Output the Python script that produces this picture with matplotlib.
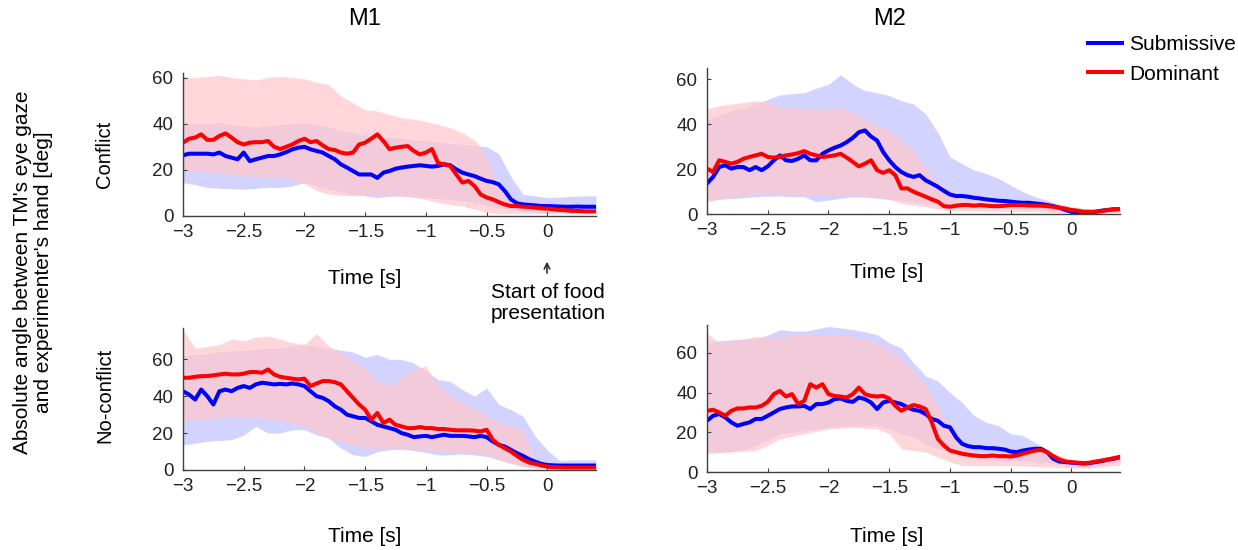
import numpy as np
import matplotlib
matplotlib.use("Agg")
import matplotlib.pyplot as plt
from matplotlib.lines import Line2D

plt.rcParams['font.family'] = ['Liberation Sans', 'DejaVu Sans']

# time axis (s) for the mean traces and for the shaded bands
t_mean = np.linspace(-3, 0.4, 69)
t_band = np.linspace(-3, 0.4, 35)

# ---- M1, Conflict ----
m1c_dom = [31.8, 33.5, 34, 35.4, 33, 33, 34.7, 35.8, 34, 32,
           31, 31.8, 32, 32, 32.5, 30, 29, 30, 31, 32.5,
           33.5, 32, 32.5, 30.6, 29, 28.6, 27.5, 27, 27.5, 31,
           31.8, 33.5, 35.4, 32.5, 29, 29.6, 30, 30.3, 28.2, 26.7,
           27.5, 29, 23, 22.4, 21.7, 18, 14.5, 15.2, 13, 9.4,
           8, 7.2, 6, 5, 4.3, 4.3, 4, 3.9, 3.6, 3.3,
           3.2, 2.9, 2.6, 2.5, 2.2, 2.2, 2, 2, 2]
m1c_sub = [26.3, 27, 27, 27, 27, 26.7, 27.5, 26, 25.3, 24.6,
           27.5, 23.8, 24.6, 25.3, 26, 26, 26.7, 27.7, 28.9, 29.6,
           30, 28.9, 28.2, 27.5, 26, 24.6, 22.4, 21, 19.5, 18,
           18, 18, 16.5, 18.8, 19.5, 20.5, 21, 21.4, 21.7, 22,
           21.7, 21.4, 21.7, 22.4, 22, 20.2, 18.8, 18, 17.3, 16.2,
           15.2, 14.7, 13.7, 10.8, 7.2, 5.5, 5, 4.8, 4.6, 4.3,
           4.3, 4.2, 4.1, 4, 4, 4.1, 4, 4, 4]
m1c_dom_hi = [60.5, 60, 60.5, 61, 60, 59.5, 59, 60, 60.5, 60,
              59.5, 58, 57, 52, 49, 46, 45.5, 44, 42.6, 42,
              41, 39.7, 38.3, 36, 33, 26, 11.6, 6, 5, 4.5,
              4.2, 4, 3.8, 3.6, 3.5]
m1c_dom_lo = [20, 19.5, 19, 18.5, 18, 17.5, 17, 17, 17, 16,
              14, 11, 9.5, 9, 8.7, 9, 9.5, 9, 8.7, 8,
              7.2, 5.8, 5, 4.3, 3, 1.4, 1, 1, 1, 1,
              1, 1, 1, 1, 1]
m1c_sub_hi = [40.5, 40, 40, 40.5, 39.5, 39, 38.5, 39, 39.5, 40,
              40.5, 39.5, 38.5, 37, 36, 35, 34.5, 34, 33.5, 33,
              32.5, 32, 31.5, 31, 30.5, 30, 27, 17, 9.4, 8.7,
              8, 8.2, 8.5, 8.7, 8.7]
m1c_sub_lo = [14.5, 13.5, 12.3, 12, 11.8, 11.6, 12, 12.5, 12.3, 13,
              14.5, 13, 11.6, 10.5, 9.4, 8.7, 8, 8.5, 8.7, 8.3,
              8, 7.5, 7.2, 6.5, 5.8, 4.5, 3.6, 2.8, 2.2, 1.8,
              1.4, 1.4, 1.5, 1.6, 1.7]

# ---- M2, Conflict ----
m2c_dom = [20.2, 18.7, 23.9, 23.2, 22.4, 23.2, 24.6, 25.4, 26.1, 26.8,
           25.4, 25.1, 25.4, 26.1, 26.5, 27.1, 28.0, 26.8, 26.1, 25.4,
           25.7, 26.1, 26.8, 25.1, 23.2, 21.2, 22.4, 23.9, 19.5, 18.3,
           19.5, 17.3, 11.4, 11.4, 9.9, 8.8, 7.7, 6.5, 5.5, 3.5,
           3.2, 3.7, 4.0, 4.0, 3.7, 4.0, 3.7, 3.5, 3.5, 3.7,
           4.0, 4.0, 4.0, 3.8, 3.7, 3.7, 3.5, 3.2, 2.8, 2.4,
           1.8, 1.5, 1.0, 1.0, 1.0, 1.3, 1.8, 2.1, 2.2]
m2c_sub = [13.6, 16.5, 20.9, 21.7, 20.2, 20.9, 20.9, 19.5, 20.9, 19.5,
           21.2, 23.9, 26.1, 23.9, 23.6, 24.6, 26.1, 23.9, 23.9, 26.8,
           28.3, 29.5, 30.5, 32.0, 33.9, 36.4, 37.2, 34.5, 32.7, 27.6,
           23.9, 20.9, 18.7, 17.3, 16.5, 17.3, 15.0, 13.6, 12.1, 10.3,
           8.7, 8.0, 8.0, 7.7, 7.2, 6.9, 6.5, 6.2, 5.9, 5.8,
           5.5, 5.2, 5.0, 5.0, 4.7, 4.4, 4.0, 3.5, 2.8, 1.8,
           1.0, 0.6, 0.6, 0.6, 1.0, 1.5, 1.8, 2.1, 2.2]
m2c_dom_hi = [46.8, 48.2, 49, 49.7, 50.4, 49.7, 47.5, 47.5, 46.8, 46.8,
              46.8, 47.5, 45.3, 42.3, 39.4, 37.2, 32.7, 28.3, 20.9, 15,
              7.7, 6.9, 6.8, 6.7, 6.6, 6.5, 6.2, 6, 5.5, 4.5,
              3.2, 2.5, 2.3, 2.8, 3.5]
m2c_dom_lo = [5.5, 6.5, 7.5, 8.2, 8.8, 9.1, 9, 8.8, 8.6, 8.5,
              8.4, 8.4, 8.4, 8.2, 7.7, 6.5, 4.7, 4, 3.2, 2.3,
              1.5, 1.4, 1.3, 1.2, 1.2, 1.1, 1.1, 1, 0.8, 0.5,
              0.3, 0.2, 0.2, 0.5, 0.8]
m2c_sub_hi = [42, 44, 46, 47, 49, 51, 53, 53.5, 54, 56,
              57.8, 62, 57.8, 54.9, 54, 52.7, 50.4, 49, 44.5, 36.4,
              25.4, 22.4, 19.5, 18, 15.8, 12.8, 9.9, 7.7, 6.2, 4,
              2.5, 2, 2, 2.3, 2.8]
m2c_sub_lo = [6.2, 6.5, 6.9, 7.2, 7.7, 8, 8, 7.7, 7.7, 5.5,
              6.2, 7, 7.7, 7.5, 7, 6.5, 6, 5.2, 4.7, 4,
              3.2, 3, 2.9, 2.8, 2.6, 2.5, 2.2, 2, 1.8, 1,
              0.3, 0.2, 0.4, 0.8, 1]

# ---- M1, No-conflict ----
m1n_dom = [50, 50, 50.5, 50.9, 50.9, 51.3, 51.8, 52.2, 51.8, 51.8,
           52.2, 53.1, 53.1, 52.7, 54.5, 51.8, 50.5, 50, 49.5, 49.1,
           49.5, 45.5, 46.9, 48.2, 48.2, 47.6, 46.4, 42.7, 39.1, 35.5,
           32.7, 27.3, 30.9, 25.5, 27.3, 24.5, 23.6, 22.7, 22.7, 23.3,
           22.7, 22.7, 22.2, 22.2, 21.8, 21.5, 21.5, 21.5, 21.3, 20.9,
           21.8, 16.4, 13.6, 11.8, 10, 7.6, 5.5, 4, 3.3, 2.5,
           1.8, 1.5, 1.4, 1.3, 1.3, 1.3, 1.3, 1.3, 1.3]
m1n_sub = [42.7, 40.9, 38.2, 43.6, 40, 35.5, 42.7, 43.6, 42.7, 44.5,
           45.5, 44.5, 46.4, 47.3, 46.9, 46.4, 46.7, 46.4, 46.9, 46.4,
           45.5, 42.7, 40, 39.1, 37.3, 34.5, 32.7, 30, 29.1, 28.2,
           28.2, 26.4, 24.5, 23.6, 22.7, 21.8, 20, 19.1, 17.8, 18.2,
           18.5, 17.8, 18.5, 19.1, 18.5, 18.5, 18.5, 18.2, 17.8, 18.5,
           17.8, 15.5, 13.6, 12.7, 10.9, 9.1, 7.6, 5.8, 4.5, 3.3,
           2.7, 2.5, 2.4, 2.4, 2.4, 2.4, 2.4, 2.4, 2.4]
m1n_dom_hi = [76, 66, 67, 68, 71, 70, 72, 72.7, 71, 69,
              68, 74, 67, 63.6, 59, 54.5, 48, 45.5, 50, 54.5,
              56.4, 45.5, 40, 36.4, 32.7, 29.1, 25.5, 23.6, 21.8, 4,
              3.5, 3.2, 3, 3, 3]
m1n_dom_lo = [27, 27.5, 28, 28.5, 29, 29, 29, 28, 27, 25.5,
              23.6, 20, 17.3, 15.5, 13.6, 11.8, 11.8, 11.8, 11.8, 11.3,
              10.9, 10.5, 10, 9.5, 9.1, 8.2, 5.5, 3.6, 1.8, 1.2,
              0.8, 0.8, 0.8, 0.8, 0.8]
m1n_sub_hi = [62, 62.5, 63, 64, 64.5, 65, 65.5, 66, 66, 67,
              68, 67, 66, 65, 64, 61, 62.7, 60, 60, 58,
              53.6, 49, 48, 43.6, 40, 44.5, 35.5, 32.7, 29.1, 18.2,
              10.9, 5, 5.5, 5.5, 5.5]
m1n_sub_lo = [13.6, 14.5, 15.5, 16, 16.4, 19, 23.6, 20, 20, 21.8,
              21.8, 19, 17.3, 11.8, 8.2, 7.3, 10, 10.9, 11.3, 10.5,
              9.5, 8.2, 8.2, 8.7, 8.2, 7.3, 5.5, 3.6, 2, 1.2,
              0.8, 0.8, 0.8, 0.8, 0.8]

# ---- M2, No-conflict ----
m2n_dom = [30.8, 31.3, 30, 28.3, 30.8, 32, 32, 32.5, 32.5, 33.3,
           35.3, 39.2, 40.8, 38, 39.2, 34.2, 35.8, 44.2, 42.5, 44.2,
           39.2, 38.3, 38, 37.5, 39.2, 42.5, 39.2, 38.3, 38, 38.3,
           37, 33.3, 30.8, 32.5, 33.7, 33, 31.7, 25, 16.7, 13.3,
           10.8, 10, 9.2, 8.7, 8.3, 8, 8, 8.3, 8, 8,
           7.8, 8.3, 9.2, 10, 10.8, 11.2, 10, 8, 6.3, 5.3,
           5, 4.7, 4.5, 4.7, 5.3, 5.8, 6.3, 7, 7.5]
m2n_sub = [25.8, 28.3, 29.2, 27.5, 25, 23.3, 24.2, 25, 26.7, 26.7,
           28.3, 30, 31.7, 32.5, 33, 33, 33.3, 31.7, 34.2, 34.2,
           35, 36.7, 37, 35.8, 35.3, 37.5, 36.7, 35, 31.7, 35,
           35.8, 35, 34.2, 32.5, 31.3, 30.8, 29.2, 26.7, 25.8, 23.3,
           22.5, 17.5, 14.2, 13, 12.5, 12.5, 12, 12, 11.7, 11.3,
           10.3, 10, 10.8, 11.3, 11.7, 11.7, 10, 6.7, 5.3, 5,
           4.7, 4.5, 4.2, 4.5, 5, 5.5, 6.2, 6.7, 7.5]
m2n_dom_hi = [70, 65, 65.8, 66.7, 68.3, 67.5, 68.3, 68.7, 69.2, 69.2,
              69.2, 68.8, 68.3, 66.7, 65, 61.7, 56.7, 50.8, 43.3, 33.3,
              21.7, 13.3, 10, 9.5, 9.2, 9.5, 10, 12.5, 10, 8.3,
              5.8, 5.8, 5.8, 7.5, 9.2]
m2n_dom_lo = [9.2, 9.6, 10, 10.4, 10.8, 13.5, 16.7, 18, 19.2, 20.5,
              21.7, 22, 22.5, 22, 21.7, 19.2, 11.7, 10.8, 10, 7.5,
              5, 3.3, 3.3, 3.3, 3.3, 3.3, 3, 2.8, 2.5, 2.2,
              2, 2, 2.2, 2.8, 3.3]
m2n_sub_hi = [65, 66, 66.5, 67, 67, 69, 71.7, 71, 70.8, 72,
              73.3, 72.5, 71.7, 70.5, 69.2, 65, 62.5, 55, 48.3, 45.8,
              40, 35, 28.3, 25, 23.3, 19.2, 18.3, 15, 10.8, 8.3,
              5.8, 5.8, 5.8, 7.5, 9.2]
m2n_sub_lo = [10, 10.2, 10.3, 11.5, 13.3, 16, 19.2, 20, 20.8, 21.7,
              22.5, 23, 23.3, 23.3, 23.3, 21.7, 19.2, 17.5, 14.2, 11.7,
              10, 8.3, 6.7, 6.2, 5.8, 5.8, 5.8, 5.2, 4.7, 3.6,
              2.5, 2.5, 3, 4, 5]

xticks = [-3, -2.5, -2, -1.5, -1, -0.5, 0]
xticklabels = ['\u22123', '\u22122.5', '\u22122', '\u22121.5', '\u22121', '\u22120.5', '0']
yticks = [0, 20, 40, 60]

SUB = '#0000ff'
DOM = '#ff0000'
W, H = 1238, 550

fig = plt.figure(figsize=(W / 100, H / 100), dpi=100)

panels = [
    # rect, ylim, data
    ([0.1478, 0.6073, 0.3336, 0.2600], 62,
     (m1c_sub, m1c_dom, m1c_sub_lo, m1c_sub_hi, m1c_dom_lo, m1c_dom_hi)),
    ([0.5711, 0.6109, 0.3336, 0.2655], 65,
     (m2c_sub, m2c_dom, m2c_sub_lo, m2c_sub_hi, m2c_dom_lo, m2c_dom_hi)),
    ([0.1478, 0.1455, 0.3336, 0.2582], 77,
     (m1n_sub, m1n_dom, m1n_sub_lo, m1n_sub_hi, m1n_dom_lo, m1n_dom_hi)),
    ([0.5711, 0.1418, 0.3336, 0.2673], 74,
     (m2n_sub, m2n_dom, m2n_sub_lo, m2n_sub_hi, m2n_dom_lo, m2n_dom_hi)),
]

for rect, ytop, (sub, dom, sub_lo, sub_hi, dom_lo, dom_hi) in panels:
    ax = fig.add_axes(rect)
    ax.fill_between(t_band, sub_lo, sub_hi, color=(0.80, 0.80, 1.0),
                    alpha=0.85, linewidth=0)
    ax.fill_between(t_band, dom_lo, dom_hi, color=(1.0, 0.78, 0.80),
                    alpha=0.72, linewidth=0)
    ax.plot(t_mean, sub, color=SUB, lw=2.9)
    ax.plot(t_mean, dom, color=DOM, lw=2.9)
    ax.set_xlim(-3, 0.4)
    ax.set_ylim(0, ytop)
    ax.set_xticks(xticks)
    ax.set_xticklabels(xticklabels)
    ax.set_yticks(yticks)
    for s in ['top', 'right']:
        ax.spines[s].set_visible(False)
    for s in ['left', 'bottom']:
        ax.spines[s].set_color('#404040')
        ax.spines[s].set_linewidth(1.0)
    ax.tick_params(direction='in', length=3, width=0.8, colors='#404040',
                   labelcolor='#222222', labelsize=13.5)
    ax.tick_params(axis='x', pad=6)
    ax.tick_params(axis='y', pad=7)

# column titles
fig.text(365 / W, 1 - 19 / H, 'M1', fontsize=17, ha='center', va='center')
fig.text(890 / W, 1 - 19 / H, 'M2', fontsize=17, ha='center', va='center')

# x labels
for x, y in [(365, 279), (887, 272), (365, 536), (887, 537)]:
    fig.text(x / W, 1 - y / H, 'Time [s]', fontsize=15,
             ha='center', va='center')

# row labels
fig.text(105 / W, 1 - 154 / H, 'Conflict', fontsize=14.5,
         rotation=90, ha='center', va='center')
fig.text(105 / W, 1 - 395 / H, 'No-conflict', fontsize=14.5,
         rotation=90, ha='center', va='center')
fig.text(33 / W, 1 - 272 / H,
         "Absolute angle between TM's eye gaze\nand experimenter's hand [deg]",
         fontsize=15, rotation=90, ha='center', va='center', linespacing=1.1)

# food presentation marker
fig.add_artist(plt.Annotation('', xy=(547, H - 259), xytext=(547, H - 276),
                              xycoords='figure pixels', textcoords='figure pixels',
                              arrowprops=dict(arrowstyle='->', color='#222222', lw=1.1)))
fig.text(548 / W, 1 - 303 / H, 'Start of food\npresentation', fontsize=15,
         ha='center', va='center', linespacing=1.15)

# legend
handles = [Line2D([], [], color=SUB, lw=2.9, label='Submissive'),
           Line2D([], [], color=DOM, lw=2.9, label='Dominant')]
fig.legend(handles=handles, loc='upper left', bbox_to_anchor=(1080 / W, 1 - 27 / H),
           frameon=False, fontsize=15, handlelength=1.6, handletextpad=0.35,
           labelspacing=0.5, borderaxespad=0)

fig.savefig('out.png', dpi=100)
